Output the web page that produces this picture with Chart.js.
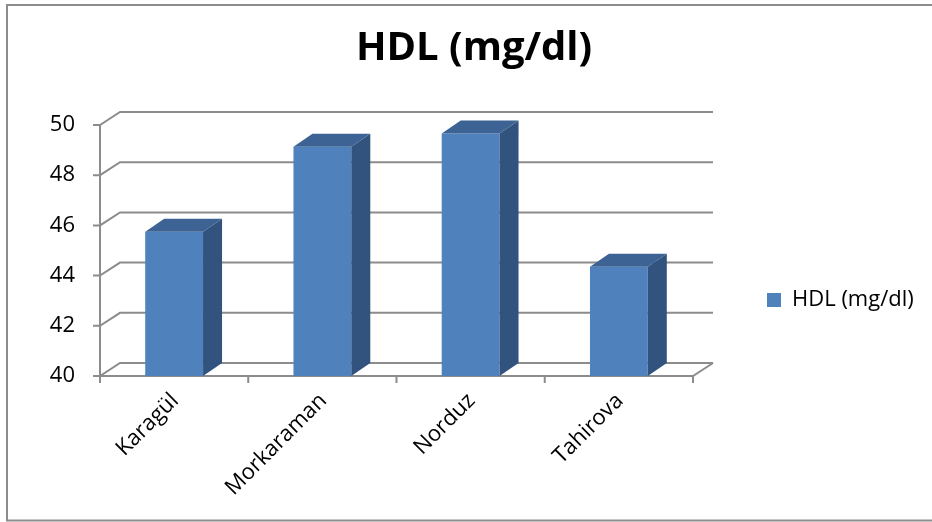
<!DOCTYPE html>
<html>
<head>
<meta charset="utf-8">
<title>HDL (mg/dl)</title>
<style>
  html, body { margin: 0; padding: 0; background: #ffffff; }
  #wrap { width: 932px; height: 522px; position: relative; }
</style>
<script src="https://cdn.jsdelivr.net/npm/chart.js@4.4.1/dist/chart.umd.min.js"></script>
</head>
<body>
<div id="wrap"><canvas id="hdlChart" width="932" height="522"></canvas></div>
<script>
// Breeds and their mean HDL values
const categories = ['Karagül', 'Morkaraman', 'Norduz', 'Tahirova'];
const hdlValues = [45.75, 49.13, 49.66, 44.35];
const seriesName = 'HDL (mg/dl)';
const yTicks = [40, 42, 44, 46, 48, 50];

// Pseudo-3D geometry (pixel offsets of the back wall and bar depth)
const WALL_DX = 20, WALL_DY = -13;
const BAR_DX = 19, BAR_DY = -13;
const GRID_COLOR = '#8c8c8c';
const FRONT_COLOR = '#4f81bd';
const TOP_COLOR = '#3c6394';
const SIDE_COLOR = '#31537e';
const FONT = "'Open Sans', 'DejaVu Sans', sans-serif";

// Legend sizing: a fixed width keeps the plot's right edge stable
const LEGEND_PAD = 74, LEGEND_BOX = 14, LEGEND_WIDTH = 225;

// Walls, floor, gridlines and tick marks drawn behind the bars
const wallsPlugin = {
  id: 'walls',
  beforeDatasetsDraw(chart) {
    const { ctx, chartArea, scales } = chart;
    const { left, right } = chartArea;
    const y = scales.y, x = scales.x;
    const base = y.getPixelForValue(yTicks[0]);
    const top = y.getPixelForValue(yTicks[yTicks.length - 1]);
    ctx.save();
    ctx.strokeStyle = GRID_COLOR;
    ctx.lineWidth = 2;
    ctx.lineJoin = 'miter';
    ctx.beginPath();
    yTicks.forEach(v => {
      const py = y.getPixelForValue(v);
      ctx.moveTo(left - 7, py);
      ctx.lineTo(left, py);
      ctx.lineTo(left + WALL_DX, py + WALL_DY);
      ctx.lineTo(right + WALL_DX, py + WALL_DY);
    });
    // front vertical axis and floor edge
    ctx.moveTo(left, top);
    ctx.lineTo(left, base);
    ctx.lineTo(right, base);
    ctx.lineTo(right + WALL_DX, base + WALL_DY);
    // category boundary ticks
    for (let i = 0; i <= categories.length; i++) {
      const px = x.getPixelForValue(i - 0.5);
      ctx.moveTo(px, base);
      ctx.lineTo(px, base + 7);
    }
    ctx.stroke();
    ctx.restore();
  }
};

// Side and top faces that give each bar its depth
const barDepthPlugin = {
  id: 'barDepth',
  afterDatasetsDraw(chart) {
    const { ctx, scales } = chart;
    const floor = scales.y.getPixelForValue(scales.y.min);
    const meta = chart.getDatasetMeta(0);
    ctx.save();
    meta.data.forEach(bar => {
      const { x, y, width } = bar.getProps(['x', 'y', 'width'], true);
      const l = x - width / 2, r = x + width / 2;
      // side face
      ctx.fillStyle = SIDE_COLOR;
      ctx.beginPath();
      ctx.moveTo(r, y);
      ctx.lineTo(r + BAR_DX, y + BAR_DY);
      ctx.lineTo(r + BAR_DX, floor + BAR_DY);
      ctx.lineTo(r, floor);
      ctx.closePath();
      ctx.fill();
      // top face
      ctx.fillStyle = TOP_COLOR;
      ctx.beginPath();
      ctx.moveTo(l, y);
      ctx.lineTo(l + BAR_DX, y + BAR_DY);
      ctx.lineTo(r + BAR_DX, y + BAR_DY);
      ctx.lineTo(r, y);
      ctx.closePath();
      ctx.fill();
    });
    ctx.restore();
  }
};

// Outer frame of the chart
const framePlugin = {
  id: 'frame',
  afterDraw(chart) {
    const { ctx } = chart;
    ctx.save();
    ctx.strokeStyle = '#8c8c8c';
    ctx.lineWidth = 2;
    ctx.strokeRect(7, 5, 940, 515.5);
    ctx.restore();
  }
};

new Chart(document.getElementById('hdlChart'), {
  type: 'bar',
  data: {
    labels: categories,
    datasets: [{
      label: seriesName,
      data: hdlValues,
      backgroundColor: FRONT_COLOR,
      borderWidth: 0,
      categoryPercentage: 1.0,
      barPercentage: 0.39
    }]
  },
  options: {
    responsive: false,
    animation: false,
    layout: { padding: { left: 30, right: 932 - 693 - LEGEND_WIDTH, top: 0, bottom: 0 } },
    plugins: {
      title: {
        display: true,
        text: 'HDL (mg/dl)',
        color: '#000000',
        font: { family: FONT, size: 40, weight: 'bold', lineHeight: 1.2 },
        padding: { top: 24.5, bottom: 125 - 24.5 - 48 }
      },
      legend: {
        position: 'right',
        maxWidth: LEGEND_WIDTH,
        title: { display: true, text: '', font: { size: 12, lineHeight: 1.2 }, padding: { top: 63.6, bottom: 0 } },
        labels: {
          boxWidth: LEGEND_BOX,
          boxHeight: LEGEND_BOX,
          padding: LEGEND_PAD,
          color: '#000000',
          font: { family: FONT, size: 22 }
        }
      },
      tooltip: { enabled: false }
    },
    scales: {
      x: {
        grid: { display: false, drawTicks: false },
        border: { display: false },
        ticks: {
          color: '#000000',
          font: { family: FONT, size: 22 },
          minRotation: 45,
          maxRotation: 45,
          padding: 12,
          labelOffset: 1
        },
        afterFit(scale) { scale.height = 146; }
      },
      y: {
        min: 40,
        max: 50,
        grid: { display: false, drawTicks: false },
        border: { display: false },
        ticks: {
          stepSize: 2,
          color: '#000000',
          font: { family: FONT, size: 22 },
          padding: 25
        },
        afterFit(scale) { scale.width = 70; }
      }
    }
  },
  plugins: [wallsPlugin, barDepthPlugin, framePlugin]
});
</script>
</body>
</html>
